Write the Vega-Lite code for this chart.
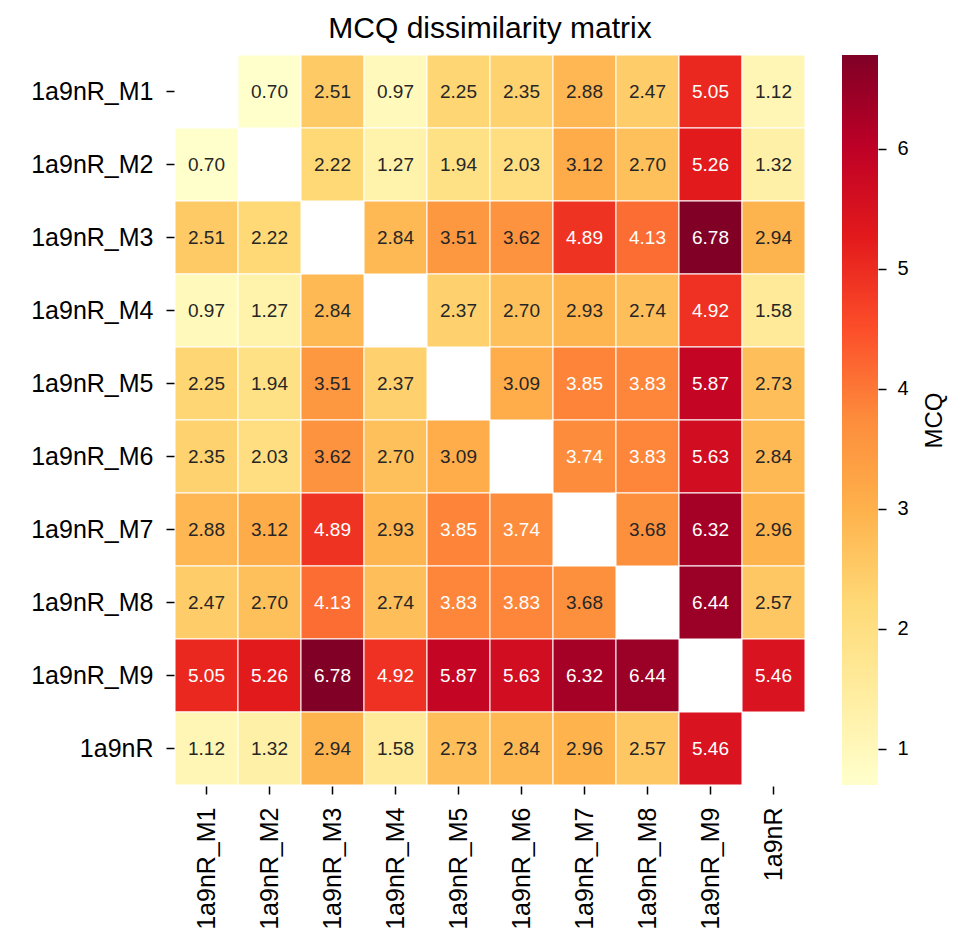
{
  "$schema": "https://vega.github.io/schema/vega-lite/v6.json",
  "autosize": {"type": "none"},
  "padding": {"left": 175, "top": 55, "right": 779, "bottom": 891},
  "background": "white",
  "bounds": "flush",
  "spacing": 37,
  "config": {"view": {"stroke": null}, "font": "Liberation Sans"},
  "hconcat": [
    {
      "width": 630,
      "height": 730,
      "data": {"values": [
        {"r": "1a9nR_M1", "c": "1a9nR_M2", "v": 0.70},
        {"r": "1a9nR_M1", "c": "1a9nR_M3", "v": 2.51},
        {"r": "1a9nR_M1", "c": "1a9nR_M4", "v": 0.97},
        {"r": "1a9nR_M1", "c": "1a9nR_M5", "v": 2.25},
        {"r": "1a9nR_M1", "c": "1a9nR_M6", "v": 2.35},
        {"r": "1a9nR_M1", "c": "1a9nR_M7", "v": 2.88},
        {"r": "1a9nR_M1", "c": "1a9nR_M8", "v": 2.47},
        {"r": "1a9nR_M1", "c": "1a9nR_M9", "v": 5.05},
        {"r": "1a9nR_M1", "c": "1a9nR", "v": 1.12},
        {"r": "1a9nR_M2", "c": "1a9nR_M1", "v": 0.70},
        {"r": "1a9nR_M2", "c": "1a9nR_M3", "v": 2.22},
        {"r": "1a9nR_M2", "c": "1a9nR_M4", "v": 1.27},
        {"r": "1a9nR_M2", "c": "1a9nR_M5", "v": 1.94},
        {"r": "1a9nR_M2", "c": "1a9nR_M6", "v": 2.03},
        {"r": "1a9nR_M2", "c": "1a9nR_M7", "v": 3.12},
        {"r": "1a9nR_M2", "c": "1a9nR_M8", "v": 2.70},
        {"r": "1a9nR_M2", "c": "1a9nR_M9", "v": 5.26},
        {"r": "1a9nR_M2", "c": "1a9nR", "v": 1.32},
        {"r": "1a9nR_M3", "c": "1a9nR_M1", "v": 2.51},
        {"r": "1a9nR_M3", "c": "1a9nR_M2", "v": 2.22},
        {"r": "1a9nR_M3", "c": "1a9nR_M4", "v": 2.84},
        {"r": "1a9nR_M3", "c": "1a9nR_M5", "v": 3.51},
        {"r": "1a9nR_M3", "c": "1a9nR_M6", "v": 3.62},
        {"r": "1a9nR_M3", "c": "1a9nR_M7", "v": 4.89},
        {"r": "1a9nR_M3", "c": "1a9nR_M8", "v": 4.13},
        {"r": "1a9nR_M3", "c": "1a9nR_M9", "v": 6.78},
        {"r": "1a9nR_M3", "c": "1a9nR", "v": 2.94},
        {"r": "1a9nR_M4", "c": "1a9nR_M1", "v": 0.97},
        {"r": "1a9nR_M4", "c": "1a9nR_M2", "v": 1.27},
        {"r": "1a9nR_M4", "c": "1a9nR_M3", "v": 2.84},
        {"r": "1a9nR_M4", "c": "1a9nR_M5", "v": 2.37},
        {"r": "1a9nR_M4", "c": "1a9nR_M6", "v": 2.70},
        {"r": "1a9nR_M4", "c": "1a9nR_M7", "v": 2.93},
        {"r": "1a9nR_M4", "c": "1a9nR_M8", "v": 2.74},
        {"r": "1a9nR_M4", "c": "1a9nR_M9", "v": 4.92},
        {"r": "1a9nR_M4", "c": "1a9nR", "v": 1.58},
        {"r": "1a9nR_M5", "c": "1a9nR_M1", "v": 2.25},
        {"r": "1a9nR_M5", "c": "1a9nR_M2", "v": 1.94},
        {"r": "1a9nR_M5", "c": "1a9nR_M3", "v": 3.51},
        {"r": "1a9nR_M5", "c": "1a9nR_M4", "v": 2.37},
        {"r": "1a9nR_M5", "c": "1a9nR_M6", "v": 3.09},
        {"r": "1a9nR_M5", "c": "1a9nR_M7", "v": 3.85},
        {"r": "1a9nR_M5", "c": "1a9nR_M8", "v": 3.83},
        {"r": "1a9nR_M5", "c": "1a9nR_M9", "v": 5.87},
        {"r": "1a9nR_M5", "c": "1a9nR", "v": 2.73},
        {"r": "1a9nR_M6", "c": "1a9nR_M1", "v": 2.35},
        {"r": "1a9nR_M6", "c": "1a9nR_M2", "v": 2.03},
        {"r": "1a9nR_M6", "c": "1a9nR_M3", "v": 3.62},
        {"r": "1a9nR_M6", "c": "1a9nR_M4", "v": 2.70},
        {"r": "1a9nR_M6", "c": "1a9nR_M5", "v": 3.09},
        {"r": "1a9nR_M6", "c": "1a9nR_M7", "v": 3.74},
        {"r": "1a9nR_M6", "c": "1a9nR_M8", "v": 3.83},
        {"r": "1a9nR_M6", "c": "1a9nR_M9", "v": 5.63},
        {"r": "1a9nR_M6", "c": "1a9nR", "v": 2.84},
        {"r": "1a9nR_M7", "c": "1a9nR_M1", "v": 2.88},
        {"r": "1a9nR_M7", "c": "1a9nR_M2", "v": 3.12},
        {"r": "1a9nR_M7", "c": "1a9nR_M3", "v": 4.89},
        {"r": "1a9nR_M7", "c": "1a9nR_M4", "v": 2.93},
        {"r": "1a9nR_M7", "c": "1a9nR_M5", "v": 3.85},
        {"r": "1a9nR_M7", "c": "1a9nR_M6", "v": 3.74},
        {"r": "1a9nR_M7", "c": "1a9nR_M8", "v": 3.68},
        {"r": "1a9nR_M7", "c": "1a9nR_M9", "v": 6.32},
        {"r": "1a9nR_M7", "c": "1a9nR", "v": 2.96},
        {"r": "1a9nR_M8", "c": "1a9nR_M1", "v": 2.47},
        {"r": "1a9nR_M8", "c": "1a9nR_M2", "v": 2.70},
        {"r": "1a9nR_M8", "c": "1a9nR_M3", "v": 4.13},
        {"r": "1a9nR_M8", "c": "1a9nR_M4", "v": 2.74},
        {"r": "1a9nR_M8", "c": "1a9nR_M5", "v": 3.83},
        {"r": "1a9nR_M8", "c": "1a9nR_M6", "v": 3.83},
        {"r": "1a9nR_M8", "c": "1a9nR_M7", "v": 3.68},
        {"r": "1a9nR_M8", "c": "1a9nR_M9", "v": 6.44},
        {"r": "1a9nR_M8", "c": "1a9nR", "v": 2.57},
        {"r": "1a9nR_M9", "c": "1a9nR_M1", "v": 5.05},
        {"r": "1a9nR_M9", "c": "1a9nR_M2", "v": 5.26},
        {"r": "1a9nR_M9", "c": "1a9nR_M3", "v": 6.78},
        {"r": "1a9nR_M9", "c": "1a9nR_M4", "v": 4.92},
        {"r": "1a9nR_M9", "c": "1a9nR_M5", "v": 5.87},
        {"r": "1a9nR_M9", "c": "1a9nR_M6", "v": 5.63},
        {"r": "1a9nR_M9", "c": "1a9nR_M7", "v": 6.32},
        {"r": "1a9nR_M9", "c": "1a9nR_M8", "v": 6.44},
        {"r": "1a9nR_M9", "c": "1a9nR", "v": 5.46},
        {"r": "1a9nR", "c": "1a9nR_M1", "v": 1.12},
        {"r": "1a9nR", "c": "1a9nR_M2", "v": 1.32},
        {"r": "1a9nR", "c": "1a9nR_M3", "v": 2.94},
        {"r": "1a9nR", "c": "1a9nR_M4", "v": 1.58},
        {"r": "1a9nR", "c": "1a9nR_M5", "v": 2.73},
        {"r": "1a9nR", "c": "1a9nR_M6", "v": 2.84},
        {"r": "1a9nR", "c": "1a9nR_M7", "v": 2.96},
        {"r": "1a9nR", "c": "1a9nR_M8", "v": 2.57},
        {"r": "1a9nR", "c": "1a9nR_M9", "v": 5.46}
      ]},
      "title": {
        "text": "MCQ dissimilarity matrix",
        "font": "Liberation Sans",
        "fontSize": 30,
        "fontWeight": "normal",
        "color": "#000000",
        "anchor": "middle",
        "offset": 11
      },
      "encoding": {
        "x": {
          "field": "c", "type": "nominal",
          "sort": ["1a9nR_M1","1a9nR_M2","1a9nR_M3","1a9nR_M4","1a9nR_M5","1a9nR_M6","1a9nR_M7","1a9nR_M8","1a9nR_M9","1a9nR"],
          "scale": {"paddingInner": 0, "paddingOuter": 0},
          "axis": {
            "title": null, "orient": "bottom", "domain": false, "grid": false,
            "labelAngle": 270, "labelFont": "Liberation Sans", "labelFontSize": 25, "labelColor": "#000000",
            "labelPadding": 13, "tickSize": 8, "tickWidth": 1.5, "tickColor": "#000000", "offset": 1
          }
        },
        "y": {
          "field": "r", "type": "nominal",
          "sort": ["1a9nR_M1","1a9nR_M2","1a9nR_M3","1a9nR_M4","1a9nR_M5","1a9nR_M6","1a9nR_M7","1a9nR_M8","1a9nR_M9","1a9nR"],
          "scale": {"paddingInner": 0, "paddingOuter": 0},
          "axis": {
            "title": null, "orient": "left", "domain": false, "grid": false,
            "labelFont": "Liberation Sans", "labelFontSize": 25, "labelColor": "#000000",
            "labelPadding": 13, "tickSize": 8, "tickWidth": 1.5, "tickColor": "#000000", "offset": 1
          }
        }
      },
      "layer": [
        {
          "mark": {"type": "rect", "stroke": "white", "strokeWidth": 1},
          "encoding": {
            "color": {
              "field": "v", "type": "quantitative",
              "scale": {
                "domain": [0.70, 1.46, 2.22, 2.98, 3.74, 4.50, 5.26, 6.02, 6.78],
                "range": ["#ffffcc", "#ffeda0", "#fed976", "#feb24c", "#fd8d3c", "#fc4e2a", "#e31a1c", "#bd0026", "#800026"],
                "interpolate": "rgb"
              },
              "legend": null
            }
          }
        },
        {
          "mark": {"type": "text", "font": "Liberation Sans", "fontSize": 19},
          "encoding": {
            "text": {"field": "v", "type": "quantitative", "format": ".2f"},
            "color": {"condition": {"test": "datum.v >= 3.7", "value": "#ffffff"}, "value": "#262626"}
          }
        }
      ]
    },
    {
      "width": 36,
      "height": 730,
      "data": {"values": [{"lo": 0.70, "hi": 6.78}]},
      "mark": {
        "type": "rect",
        "fill": {
          "gradient": "linear", "x1": 0, "y1": 1, "x2": 0, "y2": 0,
          "stops": [
            {"offset": 0, "color": "#ffffcc"},
            {"offset": 0.125, "color": "#ffeda0"},
            {"offset": 0.25, "color": "#fed976"},
            {"offset": 0.375, "color": "#feb24c"},
            {"offset": 0.5, "color": "#fd8d3c"},
            {"offset": 0.625, "color": "#fc4e2a"},
            {"offset": 0.75, "color": "#e31a1c"},
            {"offset": 0.875, "color": "#bd0026"},
            {"offset": 1, "color": "#800026"}
          ]
        }
      },
      "encoding": {
        "y": {
          "field": "lo", "type": "quantitative",
          "scale": {"domain": [0.70, 6.78], "nice": false, "zero": false},
          "axis": {
            "orient": "right", "values": [1, 2, 3, 4, 5, 6], "format": "d",
            "domain": false, "grid": false,
            "tickSize": 8, "tickWidth": 1.5, "tickColor": "#000000",
            "labelFont": "Liberation Sans", "labelFontSize": 20, "labelColor": "#000000", "labelPadding": 11,
            "title": "MCQ", "titleFont": "Liberation Sans", "titleFontSize": 24, "titleFontWeight": "normal",
            "titleColor": "#000000", "titleAngle": 270, "titleBaseline": "top", "titlePadding": 14
          }
        },
        "y2": {"field": "hi"}
      }
    }
  ]
}
